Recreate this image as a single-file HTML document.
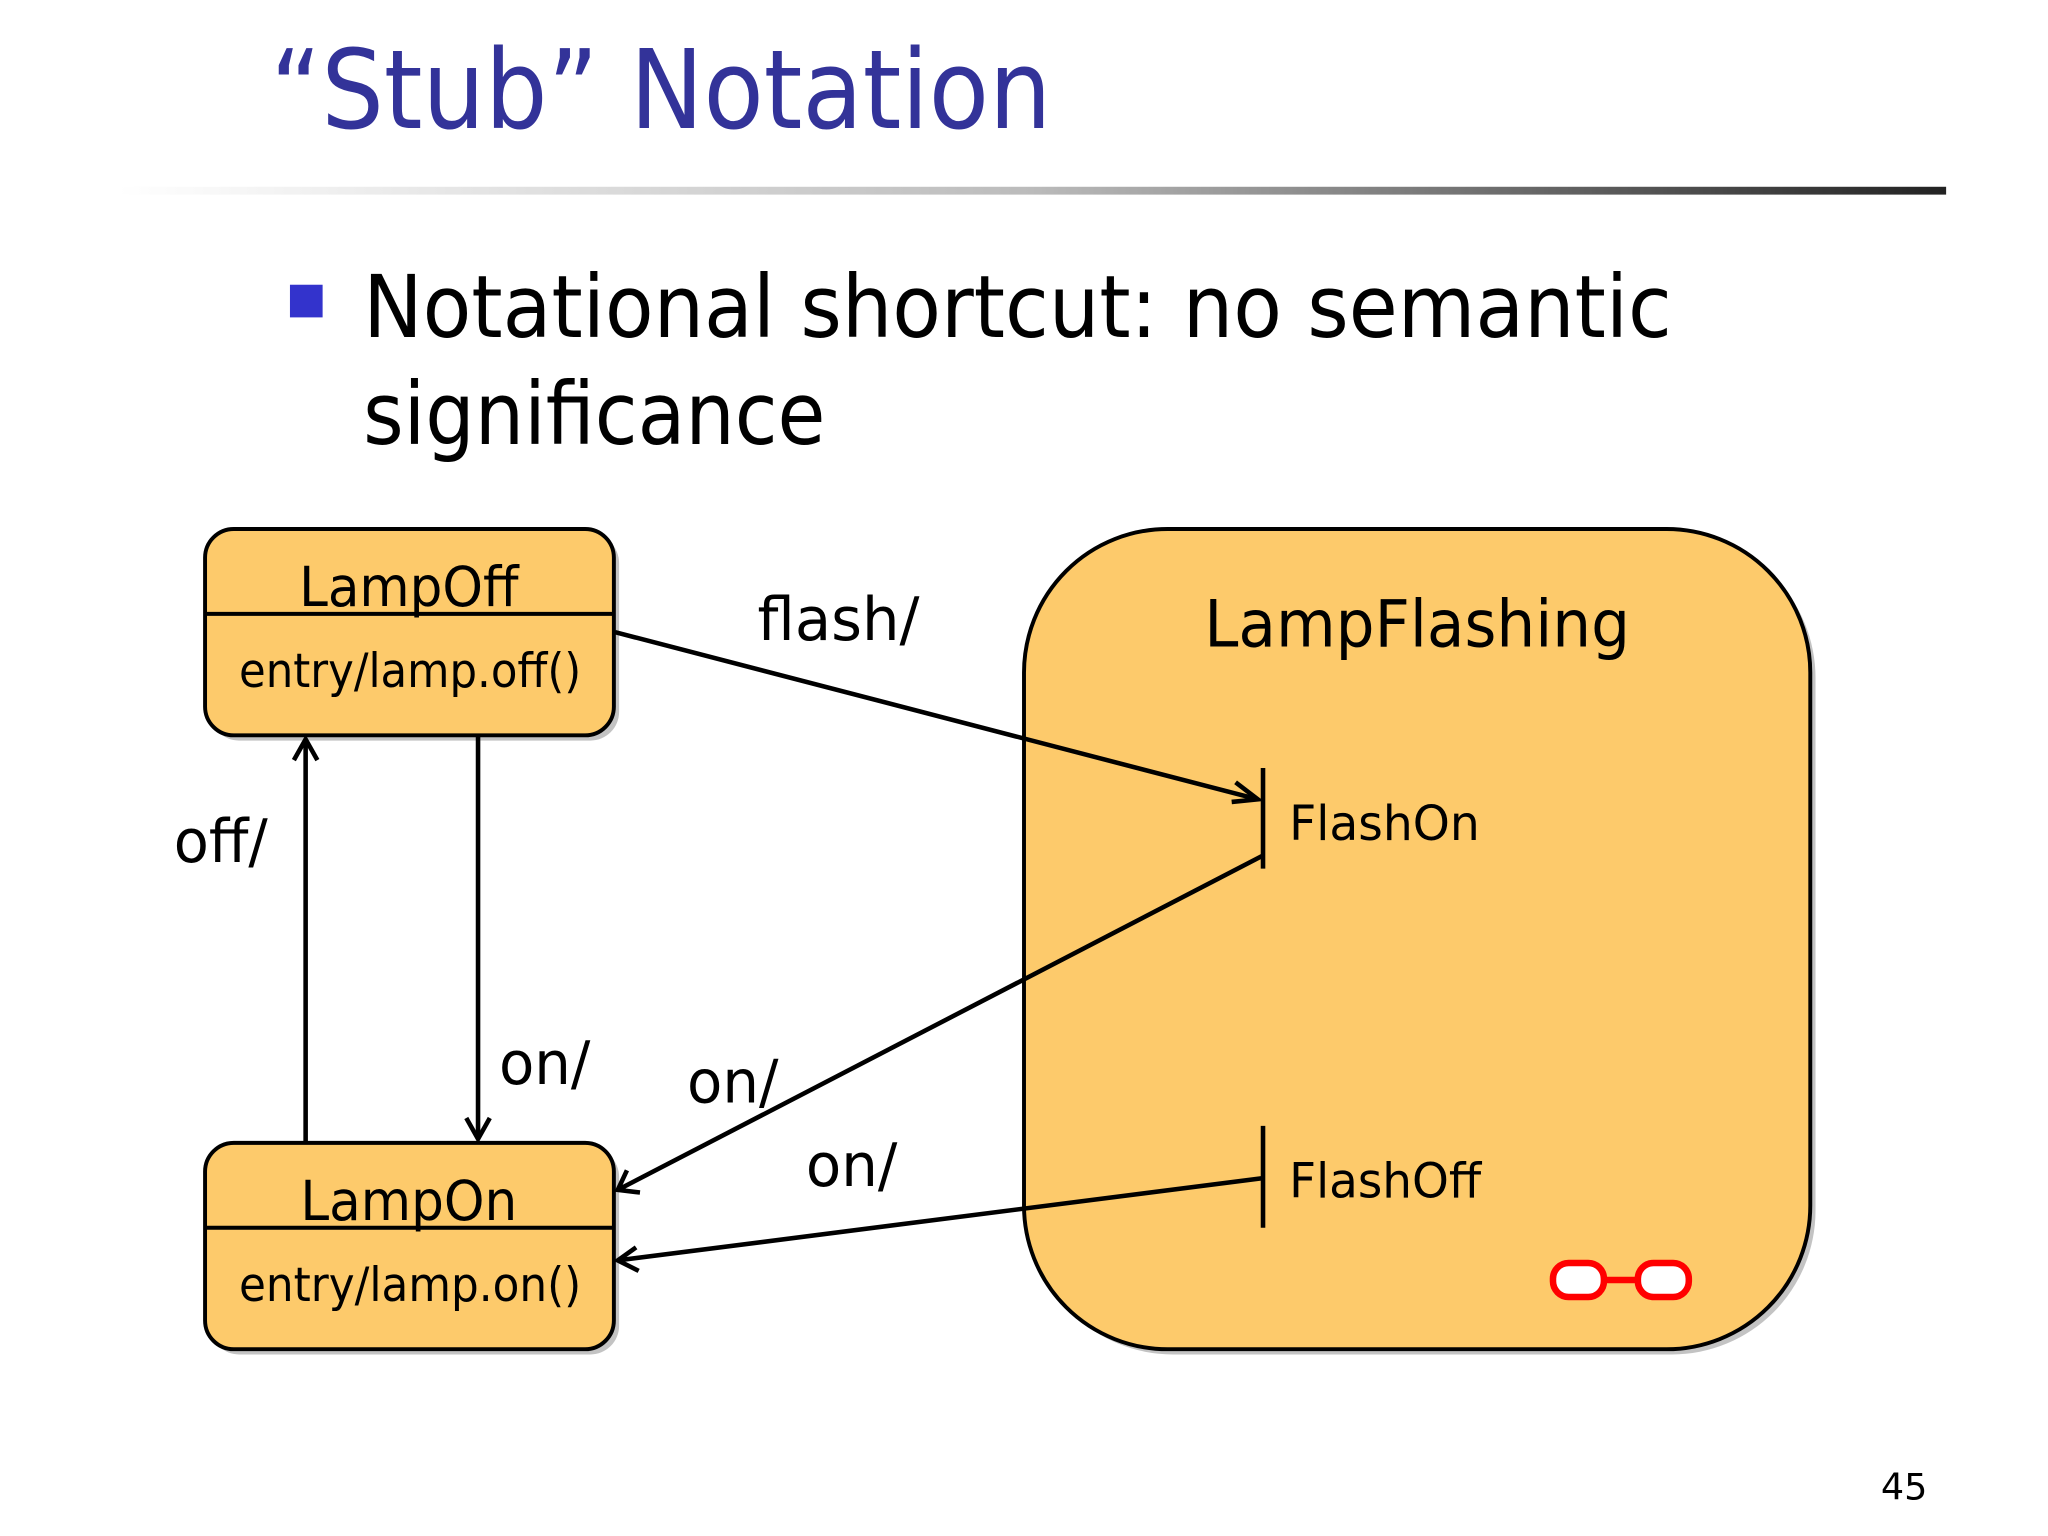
<!DOCTYPE html>
<html><head><meta charset="utf-8"><style>
html,body{margin:0;padding:0;background:#fff;}
svg{display:block;}
text{font-family:"DejaVu Sans","Liberation Sans",sans-serif;}
</style></head><body>
<svg width="2048" height="1536" viewBox="0 0 1568 1176" xmlns="http://www.w3.org/2000/svg">
<defs>
<linearGradient id="ln" x1="0" x2="1" y1="0" y2="0">
<stop offset="0" stop-color="#fff"/><stop offset="0.5" stop-color="#bbb"/><stop offset="1" stop-color="#222"/>
</linearGradient>
</defs>
<rect width="1568" height="1176" fill="#fff"/>
<text x="207" y="98" font-size="84" fill="#333399" textLength="598" lengthAdjust="spacingAndGlyphs">“Stub” Notation</text>
<rect x="90" y="143" width="1400" height="6" fill="url(#ln)"/>
<rect x="222" y="218" width="25" height="25" fill="#3333cc"/>
<text x="278" y="258" font-size="66" fill="#000" textLength="1002" lengthAdjust="spacingAndGlyphs">Notational shortcut: no semantic</text>
<text x="278" y="340" font-size="66" fill="#000" textLength="354" lengthAdjust="spacingAndGlyphs">significance</text>

<!-- shadows -->
<rect x="161" y="409" width="313" height="158" rx="22" fill="#888" opacity="0.5"/>
<rect x="161" y="879" width="313" height="158" rx="22" fill="#888" opacity="0.5"/>
<rect x="788" y="409" width="602" height="628" rx="110" fill="#888" opacity="0.5"/>

<!-- LampFlashing -->
<rect x="784" y="405" width="602" height="628" rx="110" fill="#fdca6b" stroke="#000" stroke-width="3"/>
<text x="1085" y="495" font-size="50" text-anchor="middle" fill="#000" textLength="326" lengthAdjust="spacingAndGlyphs">LampFlashing</text>

<!-- LampOff -->
<rect x="157" y="405" width="313" height="158" rx="22" fill="#fdca6b" stroke="#000" stroke-width="3"/>
<line x1="157" y1="470" x2="470" y2="470" stroke="#000" stroke-width="3"/>
<text x="313" y="464" font-size="42" text-anchor="middle" textLength="168" lengthAdjust="spacingAndGlyphs">LampOff</text>
<text x="314" y="526" font-size="36" text-anchor="middle" textLength="262" lengthAdjust="spacingAndGlyphs">entry/lamp.off()</text>

<!-- LampOn -->
<rect x="157" y="875" width="313" height="158" rx="22" fill="#fdca6b" stroke="#000" stroke-width="3"/>
<line x1="157" y1="940" x2="470" y2="940" stroke="#000" stroke-width="3"/>
<text x="313" y="934" font-size="42" text-anchor="middle" textLength="166" lengthAdjust="spacingAndGlyphs">LampOn</text>
<text x="314" y="996" font-size="36" text-anchor="middle" textLength="262" lengthAdjust="spacingAndGlyphs">entry/lamp.on()</text>

<g stroke="#000" stroke-width="3.5" fill="none">
<!-- flash -->
<line x1="471" y1="484" x2="963" y2="612"/>
<polyline points="946,599 963,612 943,614"/>
<!-- stubs -->
<line x1="967" y1="588" x2="967" y2="665"/>
<line x1="967" y1="862" x2="967" y2="940"/>
<!-- off -->
<line x1="234" y1="875" x2="234" y2="566"/>
<polyline points="225,582 234,566 243,582"/>
<!-- on vertical -->
<line x1="366" y1="563" x2="366" y2="872"/>
<polyline points="357,856 366,872 375,856"/>
<!-- on diagonal -->
<line x1="967" y1="655" x2="473" y2="911"/>
<polyline points="480,896 473,911 490,913"/>
<!-- on from FlashOff -->
<line x1="967" y1="902" x2="473" y2="965"/>
<polyline points="487,955 473,965 489,973"/>
</g>

<text x="987" y="643" font-size="37" textLength="146" lengthAdjust="spacingAndGlyphs">FlashOn</text>
<text x="987" y="917" font-size="37" textLength="147" lengthAdjust="spacingAndGlyphs">FlashOff</text>
<text x="580" y="490" font-size="46" textLength="124" lengthAdjust="spacingAndGlyphs">flash/</text>
<text x="133" y="660" font-size="46" textLength="72" lengthAdjust="spacingAndGlyphs">off/</text>
<text x="382" y="830" font-size="46" textLength="70" lengthAdjust="spacingAndGlyphs">on/</text>
<text x="526" y="844" font-size="46" textLength="70" lengthAdjust="spacingAndGlyphs">on/</text>
<text x="617" y="908" font-size="46" textLength="70" lengthAdjust="spacingAndGlyphs">on/</text>

<!-- chain icon -->
<g stroke="#ff0000" stroke-width="5" fill="#fff">
<line x1="1228" y1="980" x2="1254" y2="980"/>
<rect x="1189" y="967" width="39" height="26" rx="12"/>
<rect x="1254" y="967" width="39" height="26" rx="12"/>
</g>

<text x="1440" y="1148" font-size="28" fill="#000">45</text>
</svg>
</body></html>
